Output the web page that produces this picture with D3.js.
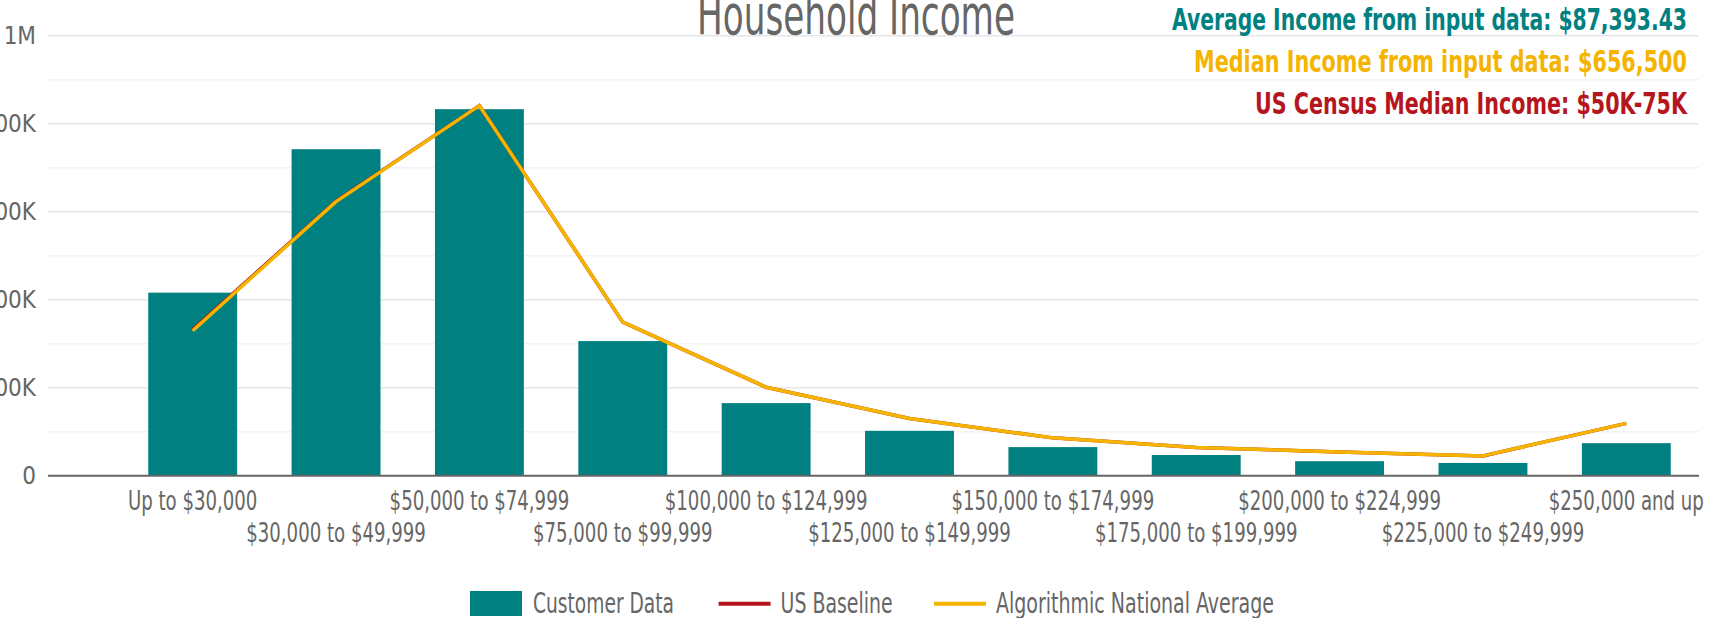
<!DOCTYPE html>
<html>
<head>
<meta charset="utf-8">
<script src="https://cdn.jsdelivr.net/npm/d3@7"></script>
<style>
  html, body { margin: 0; padding: 0; background: #fff; overflow: hidden; }
  svg { display: block; }
  text { font-family: "Liberation Sans Narrow", "Arial Narrow", "DejaVu Sans Condensed", sans-serif; }
</style>
</head>
<body>
<svg id="chart" width="1719" height="618"></svg>
<script>
const width = 1719;
const height = 618;

// income brackets
const categories = [
  "Up to $30,000", "$30,000 to $49,999", "$50,000 to $74,999", "$75,000 to $99,999",
  "$100,000 to $124,999", "$125,000 to $149,999", "$150,000 to $174,999",
  "$175,000 to $199,999", "$200,000 to $224,999", "$225,000 to $249,999", "$250,000 and up"
];
// values
const customerData = [416000, 742000, 833000, 306000, 165000, 102000, 65000, 47000, 33000, 29000, 74000];
const usBaseline = [332000, 624000, 841000, 349000, 201000, 130000, 86000, 64000, 54000, 45000, 119000];
const nationalAverage = [329500, 623000, 841000, 349000, 201000, 130000, 86000, 64000, 54000, 45000, 119000];

const yTicks = [0, 200000, 400000, 600000, 800000, 1000000];
const yMinorTicks = [100000, 300000, 500000, 700000, 900000];

const statLines = [
  { text: "Average Income from input data: $87,393.43", color: "#008080", len: 515 },
  { text: "Median Income from input data: $656,500", color: "#F4B400", len: 493 },
  { text: "US Census Median Income: $50K-75K", color: "#B5161D", len: 432 }
];

const legendItems = [
  { name: "Customer Data", color: "#008080", kind: "rect", len: 141 },
  { name: "US Baseline", color: "#B5161D", kind: "line", len: 112 },
  { name: "Algorithmic National Average", color: "#F4B400", kind: "line", len: 278 }
];

const svg = d3.select("#chart");

const gridLeft = 48, gridRight = 1699;

const x = d3.scaleBand()
  .domain(categories)
  .range([121, 1698])
  .paddingInner(0.38)
  .paddingOuter(0.19);

const y = d3.scaleLinear()
  .domain([0, 1000000])
  .range([475.7, 35.7]);

// minor gridlines
svg.append("g")
  .selectAll("line")
  .data(yMinorTicks)
  .join("line")
  .attr("x1", gridLeft).attr("x2", gridRight)
  .attr("y1", d => y(d)).attr("y2", d => y(d))
  .style("stroke", "#f3f3f3")
  .style("stroke-width", 1.5);

// major gridlines
svg.append("g")
  .selectAll("line")
  .data(yTicks.filter(d => d > 0))
  .join("line")
  .attr("x1", gridLeft).attr("x2", gridRight)
  .attr("y1", d => y(d)).attr("y2", d => y(d))
  .style("stroke", "#e6e6e6")
  .style("stroke-width", 1.5);

// y axis labels
const yAxis = svg.append("g")
  .attr("transform", `translate(${gridLeft},0)`)
  .call(d3.axisLeft(y)
    .tickValues(yTicks)
    .tickSize(0)
    .tickPadding(12)
    .tickFormat(d => d === 0 ? "0" : d >= 1000000 ? (d / 1000000) + "M" : (d / 1000) + "K"));
yAxis.select(".domain").remove();
yAxis.selectAll("text")
  .style("font-size", "24px")
  .style("fill", "#666");

// title
svg.append("text")
  .attr("x", 856)
  .attr("y", 34)
  .attr("text-anchor", "middle")
  .attr("textLength", 318)
  .attr("lengthAdjust", "spacingAndGlyphs")
  .style("font-size", "56px")
  .style("fill", "#666")
  .text("Household Income");

// bars
svg.append("g")
  .selectAll("rect")
  .data(customerData)
  .join("rect")
  .attr("x", (d, i) => x(categories[i]))
  .attr("width", x.bandwidth())
  .attr("y", d => y(d))
  .attr("height", d => y(0) - y(d))
  .style("fill", "#008080");

// lines
const line = d3.line()
  .x((d, i) => x(categories[i]) + x.bandwidth() / 2)
  .y(d => y(d));

svg.append("path")
  .datum(usBaseline)
  .attr("d", line)
  .style("fill", "none")
  .style("stroke", "#B5161D")
  .style("stroke-width", 3.5);

svg.append("path")
  .datum(nationalAverage)
  .attr("d", line)
  .style("fill", "none")
  .style("stroke", "#F4B400")
  .style("stroke-width", 3.5)
  .style("stroke-linejoin", "round");

// baseline axis
svg.append("line")
  .attr("x1", gridLeft).attr("x2", gridRight)
  .attr("y1", y(0)).attr("y2", y(0))
  .style("stroke", "#666")
  .style("stroke-width", 2);

// x axis labels, alternating in two rows
const xAxis = svg.append("g")
  .attr("transform", `translate(0,${y(0)})`)
  .call(d3.axisBottom(x).tickSize(0).tickPadding(0));
xAxis.select(".domain").remove();
const xLabels = xAxis.selectAll("text")
  .attr("dy", null)
  .attr("y", (d, i) => i % 2 === 0 ? 34.3 : 66)
  .style("font-size", "26px")
  .style("fill", "#666");

// squeeze labels to the condensed width of the original font
const refLen = xLabels.filter((d, i) => i === 1).node().getComputedTextLength();
const ratio = 179.6 / refLen;
xLabels.each(function () {
  const w = this.getComputedTextLength();
  d3.select(this).attr("textLength", w * ratio).attr("lengthAdjust", "spacingAndGlyphs");
});

// stats block
svg.append("g")
  .selectAll("text")
  .data(statLines)
  .join("text")
  .attr("x", 1687)
  .attr("y", (d, i) => 29.5 + i * 42.2)
  .attr("text-anchor", "end")
  .attr("textLength", d => d.len)
  .attr("lengthAdjust", "spacingAndGlyphs")
  .style("font-size", "29.5px")
  .style("font-weight", "bold")
  .style("fill", d => d.color)
  .text(d => d.text);

// legend
const legendX = [470, 718.6, 934];
const legend = svg.append("g");
legendItems.forEach((item, i) => {
  const g = legend.append("g").attr("transform", `translate(${legendX[i]},0)`);
  if (item.kind === "rect") {
    g.append("rect")
      .attr("x", 0).attr("y", 591)
      .attr("width", 52).attr("height", 25)
      .style("fill", item.color);
  } else {
    g.append("line")
      .attr("x1", 0).attr("x2", 52)
      .attr("y1", 603.7).attr("y2", 603.7)
      .style("stroke", item.color)
      .style("stroke-width", 4);
  }
  g.append("text")
    .attr("x", i === 0 ? 63 : 62)
    .attr("y", 612.7)
    .attr("textLength", item.len)
    .attr("lengthAdjust", "spacingAndGlyphs")
    .style("font-size", "28px")
    .style("fill", "#666")
    .text(item.name);
});
</script>
</body>
</html>
